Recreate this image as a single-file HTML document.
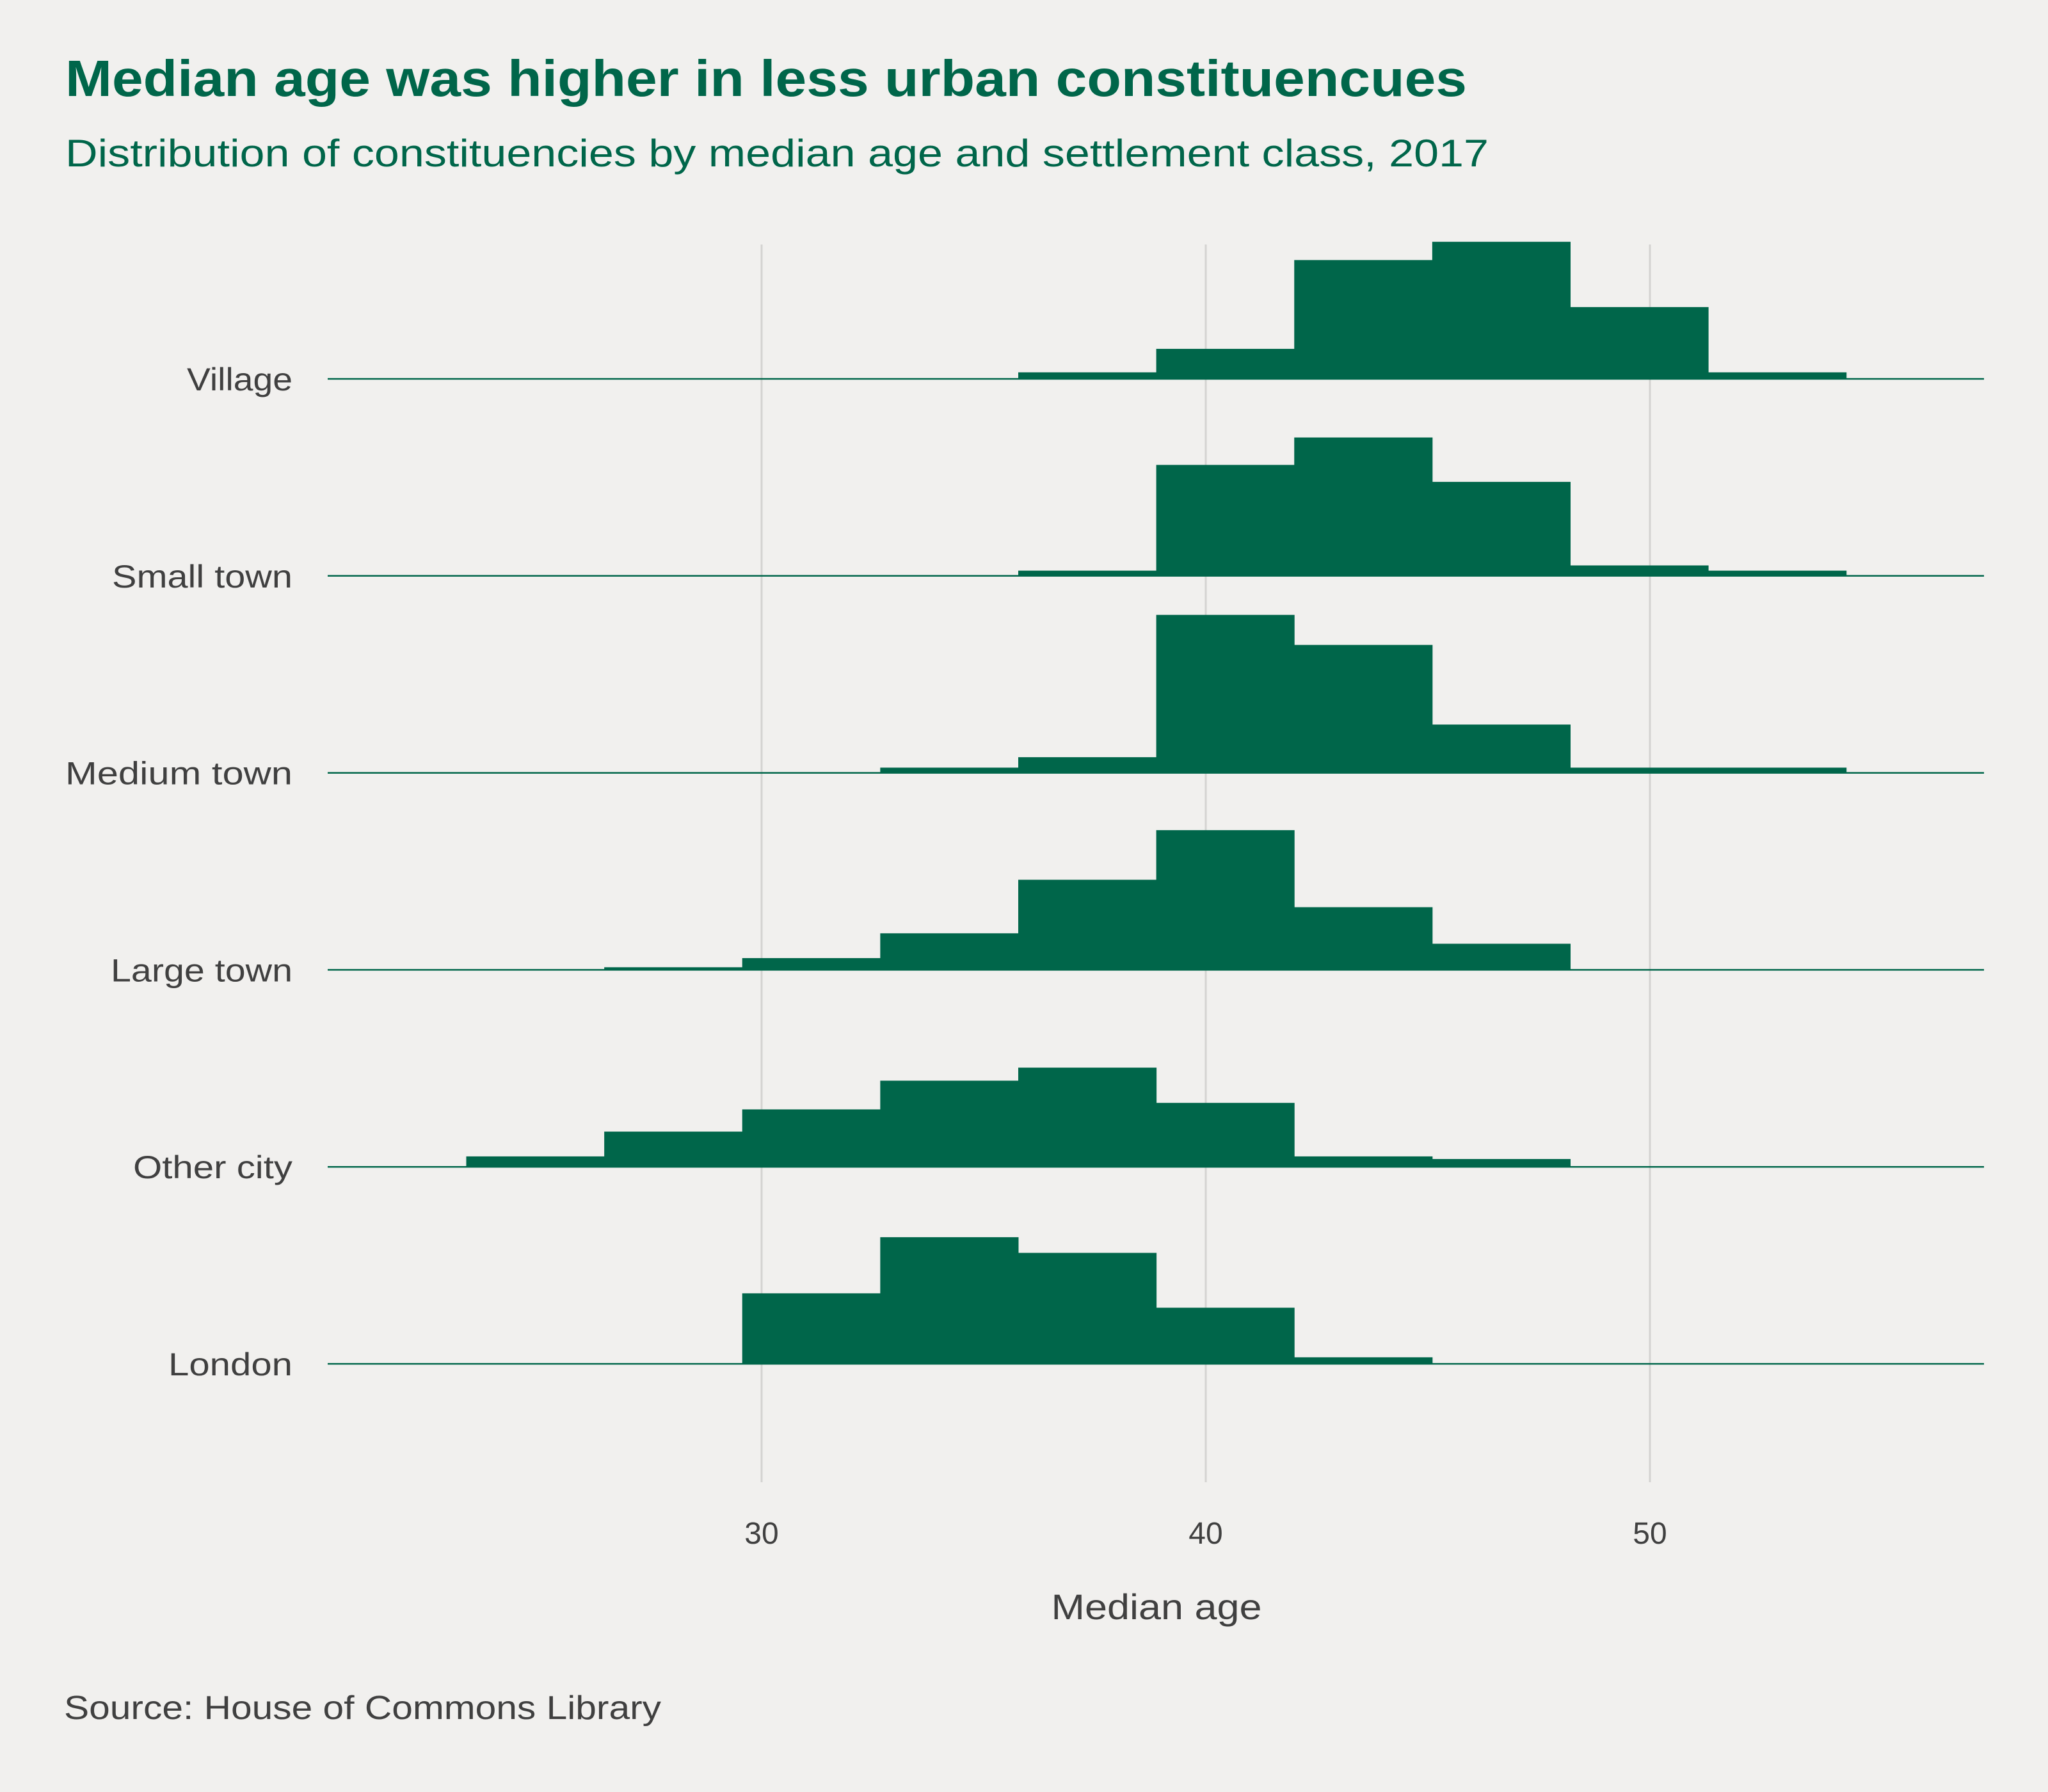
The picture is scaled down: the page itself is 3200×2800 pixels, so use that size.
<!DOCTYPE html>
<html><head><meta charset="utf-8"><style>
html,body{margin:0;padding:0;background:#f1f0ee;}
svg{display:block;}
text{font-family:"Liberation Sans",sans-serif;}
</style></head><body>
<svg id="chart" width="3200" height="2800" viewBox="0 0 3200 2800" xmlns="http://www.w3.org/2000/svg">
<rect width="3200" height="2800" fill="#f1f0ee"/>
<text x="102" y="150" font-size="80" font-weight="bold" fill="#00664a" textLength="2190" lengthAdjust="spacingAndGlyphs">Median age was higher in less urban constituencues</text>
<text x="102" y="260" font-size="60" fill="#00664a" textLength="2224" lengthAdjust="spacingAndGlyphs">Distribution of constituencies by median age and settlement class, 2017</text>
<g id="grid"></g>
<g id="bars"></g>
<g id="ylabels"></g>
<g id="xticks"></g>
<text x="1807" y="2530" font-size="56" fill="#404040" text-anchor="middle" textLength="329" lengthAdjust="spacingAndGlyphs">Median age</text>
<text x="100" y="2686" font-size="52" fill="#404040" textLength="933" lengthAdjust="spacingAndGlyphs">Source: House of Commons Library</text>
</svg>
<script>
const categories = ["Village","Small town","Medium town","Large town","Other city","London"];
const labelWidths = [165,282,355,284,249,194];
const binStart = 23.35;
const binWidth = 3.107;
const village = [0,0,0,0,5,23,91,105,55,5];
const smallTown = [0,0,0,0,4,85,106,72,8,4];
const mediumTown = [0,0,0,4,12,121,98,37,4,4];
const largeTown = [0,2,9,28,69,107,48,20,0,0];
const otherCity = [8,27,44,66,76,49,8,6,0,0];
const london = [0,0,54,97,85,43,5,0,0,0];
const series = [village, smallTown, mediumTown, largeTown, otherCity, london];
const xTicks = [30,40,50];

const NS = "http://www.w3.org/2000/svg";
const x = v => 1190 + (v - 30) * 69.4;
const rowBase = i => 592 + i * 307.8;
const h = v => v * 2.04;
const green = "#00664a";

const grid = document.getElementById('grid');
const xt = document.getElementById('xticks');
xTicks.forEach(t => {
  const l = document.createElementNS(NS,'line');
  
  
  l.setAttribute('x1', x(t)); l.setAttribute('x2', x(t));
  l.setAttribute('y1', 382); l.setAttribute('y2', 2316);
  l.setAttribute('stroke', '#d4d3d1'); l.setAttribute('stroke-width', 3);
  grid.appendChild(l);
  const tx = document.createElementNS(NS,'text');
  
  
  tx.setAttribute('x', x(t)); tx.setAttribute('y', 2412);
  tx.setAttribute('font-size', 48); tx.setAttribute('fill', '#404040');
  tx.setAttribute('text-anchor', 'middle');
  tx.textContent = t;
  xt.appendChild(tx);
});

const bars = document.getElementById('bars');
const yl = document.getElementById('ylabels');
categories.forEach((c, i) => {
  const base = rowBase(i);
  series[i].forEach((v, j) => {
    if (!v) return;
    const r = document.createElementNS(NS,'rect');
    
    
    const x0 = x(binStart + j * binWidth), x1 = x(binStart + (j + 1) * binWidth);
    r.setAttribute('x', x0); r.setAttribute('width', x1 - x0 + 0.5);
    r.setAttribute('y', base - h(v)); r.setAttribute('height', h(v));
    r.setAttribute('fill', green);
    bars.appendChild(r);
  });
  const l = document.createElementNS(NS,'line');
  
  
  l.setAttribute('x1', 512); l.setAttribute('x2', 3100);
  l.setAttribute('y1', base); l.setAttribute('y2', base);
  l.setAttribute('stroke', green); l.setAttribute('stroke-width', 2.5);
  bars.appendChild(l);
  const t = document.createElementNS(NS,'text');
  
  
  t.setAttribute('x', 457); t.setAttribute('y', base + 18);
  t.setAttribute('font-size', 50); t.setAttribute('fill', '#404040');
  t.setAttribute('text-anchor', 'end');
  t.setAttribute('textLength', labelWidths[i]);
  t.setAttribute('lengthAdjust', 'spacingAndGlyphs');
  t.textContent = c;
  yl.appendChild(t);
});
</script>
</body></html>
